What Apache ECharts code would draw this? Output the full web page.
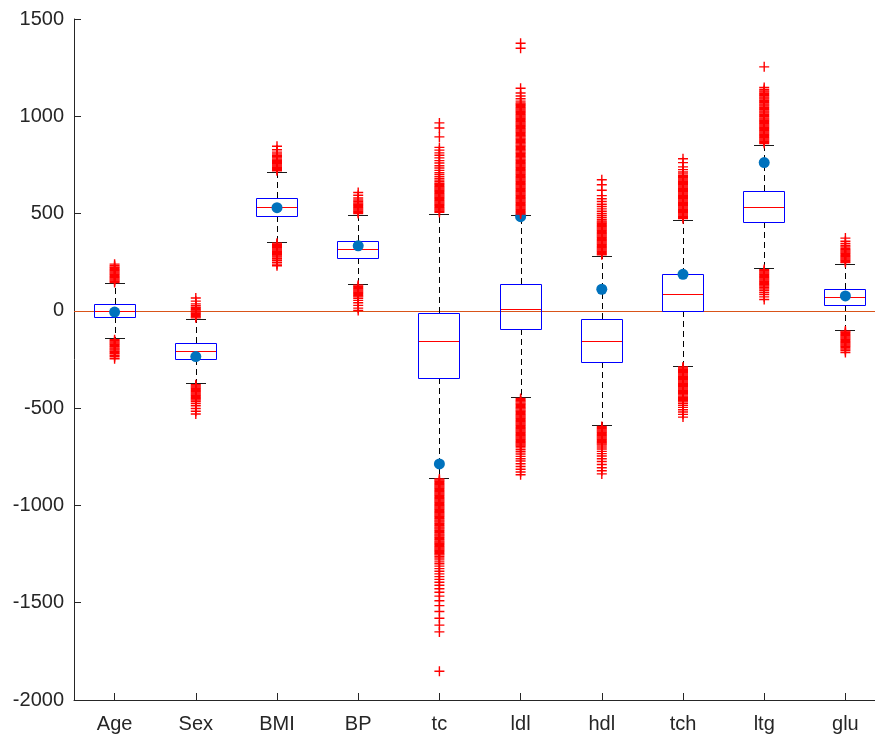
<!DOCTYPE html>
<html>
<head>
<meta charset="utf-8">
<script src="https://cdn.jsdelivr.net/npm/echarts@6/dist/echarts.min.js"></script>
<style>
html,body{margin:0;padding:0;background:#fff;overflow:hidden;width:875px;height:741px;}
#chart{width:900px;height:741px;}
</style>
</head>
<body>
<div id="chart"></div>
<script>
const categories = ['Age','Sex','BMI','BP','tc','ldl','hdl','tch','ltg','glu'];
const whiskerLow  = [-138, -372, 354, 138, -857, -444, -588, -282, 219, -98];
const q1          = [-32, -249, 489, 272, -346, -95, -261, 1, 457, 29];
const median      = [1, -205, 534, 317, -155, 11, -155, 88, 534, 70];
const q3          = [36, -163, 579, 361, -9, 140, -43, 188, 616, 113];
const whiskerHigh = [145, -42, 714, 494, 500, 491, 282, 469, 854, 241];
const estimates   = [-6, -235, 530, 334, -787, 484, 111, 188, 762, 77];
const yTicks = [-2000, -1500, -1000, -500, 0, 500, 1000, 1500];
const refLine = [0];

const outAge = [146,152,158,164,170,176,182,188,194,200,206,212,218,224,232,240,
  -148,-154,-160,-166,-172,-178,-184,-190,-196,-202,-208,-214,-220,-228,-236,-246];
const outSex = [-36,-30,-24,-18,-12,-6,0,6,12,18,26,36,50,66,
  -380,-386,-392,-398,-404,-410,-416,-422,-428,-434,-440,-446,-452,-458,-466,-476,-488,-502,-516,-530];
const outBMI = [720,726,732,738,744,750,756,762,768,774,780,786,792,798,806,816,828,846,
  348,342,336,330,324,318,312,306,300,294,288,282,276,268,260,250,240,232];
const outBP = [500,506,512,518,524,530,536,542,548,554,562,570,580,594,608,
  132,126,120,114,108,102,96,90,84,78,72,64,54,42,28,14,2];
const outTc = [506,512,518,524,530,536,542,548,554,560,566,572,578,584,590,596,602,608,614,620,626,632,638,644,650,656,664,672,680,690,700,710,722,734,746,760,772,786,800,812,826,840,894,940,966,
  -864,-870,-876,-882,-888,-894,-900,-906,-912,-918,-924,-930,-936,-942,-948,-954,-960,-966,-972,-978,-984,-990,-996,-1002,-1008,-1014,-1020,-1026,-1032,-1038,-1044,-1050,-1056,-1062,-1068,-1074,-1080,-1086,-1092,-1098,-1104,-1110,-1116,-1122,-1128,-1134,-1140,-1146,-1152,-1158,-1164,-1170,-1176,-1182,-1188,-1194,-1200,-1206,-1212,-1218,-1224,-1230,-1236,-1242,-1248,-1254,-1262,-1270,-1280,-1290,-1300,-1312,-1325,-1338,-1352,-1366,-1380,-1395,-1410,-1428,-1446,-1466,-1490,-1515,-1545,-1580,-1615,-1650,-1852];
const outLdl = [498,504,510,516,522,528,534,540,546,552,558,564,570,576,582,588,594,600,606,612,618,624,630,636,642,648,654,660,666,672,678,684,690,696,702,708,714,720,726,732,738,744,750,756,762,768,774,780,786,792,798,804,810,816,822,828,834,840,846,852,858,864,870,876,882,888,894,900,906,912,918,924,930,936,942,948,954,960,966,972,978,984,990,996,1002,1008,1014,1020,1026,1032,1038,1044,1050,1056,1062,1068,1078,1090,1104,1120,1144,1350,1375,
  -450,-456,-462,-468,-474,-480,-486,-492,-498,-504,-510,-516,-522,-528,-534,-540,-546,-552,-558,-564,-570,-576,-582,-588,-594,-600,-606,-612,-618,-624,-630,-636,-642,-648,-654,-660,-666,-672,-678,-684,-690,-696,-704,-714,-724,-736,-748,-760,-772,-786,-800,-814,-828,-842];
const outHdl = [288,294,300,306,312,318,324,330,336,342,348,354,360,366,372,378,384,390,396,402,408,414,420,426,432,438,444,450,456,462,470,480,490,500,512,524,536,548,562,576,592,620,648,674,
  -594,-600,-606,-612,-618,-624,-630,-636,-642,-648,-654,-660,-666,-672,-678,-684,-690,-700,-710,-722,-734,-746,-760,-774,-790,-806,-822,-838];
const outTch = [474,480,486,492,498,504,510,516,522,528,534,540,546,552,558,564,570,576,582,588,594,600,606,612,618,624,630,636,642,648,654,660,666,672,678,684,690,696,704,714,726,740,762,782,
  -288,-294,-300,-306,-312,-318,-324,-330,-336,-342,-348,-354,-360,-366,-372,-378,-384,-390,-396,-402,-408,-414,-420,-426,-432,-438,-444,-450,-456,-462,-468,-476,-486,-496,-508,-520,-532,-546];
const outLtg = [860,866,872,878,884,890,896,902,908,914,920,926,932,938,944,950,956,962,968,974,980,986,992,998,1004,1010,1016,1022,1028,1034,1040,1046,1052,1058,1064,1070,1076,1082,1088,1094,1100,1106,1112,1118,1124,1130,1138,1148,1254,
  212,206,200,194,188,182,176,170,164,158,152,146,140,134,128,120,112,104,94,84,72,58];
const outGlu = [248,254,260,266,272,278,284,290,296,302,308,314,320,328,336,346,358,374,
  -104,-110,-116,-122,-128,-134,-140,-146,-152,-158,-164,-170,-176,-182,-188,-196,-204,-214];

const outlierLists = [outAge,outSex,outBMI,outBP,outTc,outLdl,outHdl,outTch,outLtg,outGlu];

const boxData = categories.map((c,i)=>[i, whiskerLow[i], q1[i], median[i], q3[i], whiskerHigh[i]]);
const outlierData = [];
outlierLists.forEach((arr,i)=>arr.forEach(v=>outlierData.push([i, v])));
const estData = estimates.map((v,i)=>[i, v]);

const FONT = '"Liberation Sans", Arial, Helvetica, sans-serif';
const AX = '#262626';

function renderBox(params, api){
  const x = api.value(0);
  const band = api.size([1,0])[0];
  const bw = Math.round(band*0.5), cw = Math.round(band*0.25);
  const pLo = api.coord([x, api.value(1)]);
  const pQ1 = api.coord([x, api.value(2)]);
  const pMed = api.coord([x, api.value(3)]);
  const pQ3 = api.coord([x, api.value(4)]);
  const pHi = api.coord([x, api.value(5)]);
  const cxi = Math.round(pMed[0]);
  const cx = cxi + 0.5;
  const r = v => Math.round(v) + 0.5;
  const dash = {stroke:'#000000', lineWidth:1, lineDash:[6,4], fill:null};
  const left = cxi - Math.round(bw/2);
  const yQ3 = Math.round(pQ3[1]), yQ1 = Math.round(pQ1[1]);
  return {type:'group', children:[
    {type:'line', shape:{x1:cx, y1:yQ3, x2:cx, y2:r(pHi[1])}, style:dash},
    {type:'line', shape:{x1:cx, y1:yQ1, x2:cx, y2:r(pLo[1])}, style:dash},
    {type:'rect', shape:{x:cxi-Math.round(cw/2), y:Math.round(pHi[1]), width:cw, height:1}, style:{fill:'#1a1a1a'}},
    {type:'rect', shape:{x:cxi-Math.round(cw/2), y:Math.round(pLo[1]), width:cw, height:1}, style:{fill:'#1a1a1a'}},
    {type:'rect', shape:{x:left+0.5, y:yQ3+0.5, width:bw, height:yQ1-yQ3}, style:{fill:null, stroke:'#0000ff', lineWidth:1}},
    {type:'rect', shape:{x:left+1, y:Math.round(pMed[1]), width:bw-1, height:1}, style:{fill:'#ff0000'}}
  ]};
}

function renderRef(params, api){
  const cs = params.coordSys;
  const y = Math.round(api.coord([0, api.value(0)])[1]);
  return {type:'rect', shape:{x:cs.x, y:y, width:cs.width, height:1}, style:{fill:'#D95319'}};
}

const chart = echarts.init(document.getElementById('chart'), null, {renderer:'canvas'});
chart.setOption({
  animation:false,
  backgroundColor:'#ffffff',
  grid:{left:74, top:19, width:812, height:681, containLabel:false},
  xAxis:{
    type:'category', data:categories, boundaryGap:true,
    axisLine:{show:true, onZero:false, lineStyle:{color:AX, width:1}},
    axisTick:{show:true, inside:true, alignWithLabel:true, length:7, lineStyle:{color:AX}},
    axisLabel:{color:AX, fontSize:20, fontFamily:FONT, margin:14},
    splitLine:{show:false}
  },
  yAxis:{
    type:'value', min:yTicks[0], max:yTicks[yTicks.length-1], interval:500,
    axisLine:{show:true, lineStyle:{color:AX, width:1}},
    axisTick:{show:true, inside:true, length:7, lineStyle:{color:AX}},
    axisLabel:{color:AX, fontSize:20, fontFamily:FONT, margin:10, formatter:v=>String(v)},
    splitLine:{show:false}
  },
  series:[
    {type:'custom', renderItem:renderRef, data:refLine.map(v=>[v]), z:1, silent:true,
     encode:{y:0}},
    {type:'custom', renderItem:renderBox, data:boxData, z:2, silent:true,
     encode:{x:0, y:[1,2,3,4,5]}},
    {type:'scatter', data:estData, z:3, symbol:'circle', symbolSize:11,
     itemStyle:{color:'#0072BD', opacity:1}},
    {type:'scatter', data:outlierData, z:4, symbol:'path://M4.3,0H5.7V4.3H10V5.7H5.7V10H4.3V5.7H0V4.3H4.3Z',
     symbolSize:10, itemStyle:{color:'#ff0000', opacity:1}, large:false}
  ]
});
</script>
</body>
</html>
